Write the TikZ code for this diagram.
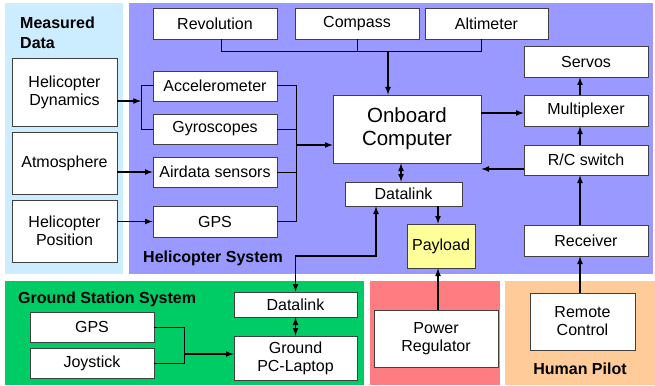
\documentclass[tikz,border=0pt]{standalone}
\usepackage{fontspec}
\setmainfont{Liberation Sans}
\usetikzlibrary{arrows}

\definecolor{measblue}{RGB}{204,236,255}
\definecolor{heliblue}{RGB}{153,153,255}
\definecolor{groundgreen}{RGB}{0,204,102}
\definecolor{powerred}{RGB}{255,124,128}
\definecolor{pilotpeach}{RGB}{255,204,153}
\definecolor{payloadyellow}{RGB}{255,255,153}

\tikzstyle{block} = [rectangle, draw=black!75, line width=0.8pt, fill=white, text centered, align=center, inner sep=0pt, font=\fontsize{16}{18}\selectfont]
\tikzstyle{sensor} = [block, minimum width=124pt, minimum height=30pt]
\tikzstyle{source} = [block, minimum width=105pt]
\tikzstyle{label} = [font=\fontsize{16}{19.5}\selectfont\bfseries, inner sep=0pt]
\tikzstyle{line} = [line width=1pt]
\tikzstyle{arrow} = [line width=1.6pt,->,>=latex]
\tikzstyle{dblarrow} = [line width=1.6pt,<->,>=latex]

\begin{document}
\begin{tikzpicture}[x=1pt,y=-1pt]
	\useasboundingbox (0,0) rectangle (655,385);
	% panels
	\fill[measblue] (5,3) rectangle (123,274);
	\fill[heliblue] (129,3) rectangle (653,274);
	\fill[groundgreen] (5,281) rectangle (364,385);
	\fill[powerred] (370,281) rectangle (500,385);
	\fill[pilotpeach] (505,281) rectangle (655,385);
	
	\node (measlbl) [label, anchor=north west, align=left] at (20,17) {Measured\\Data};
	\node (helilbl) [label, anchor=west] at (143,258.5) {Helicopter System};
	\node (gndlbl) [label, anchor=west] at (18,299) {Ground Station System};
	\node (pilotlbl) [label] at (580,369) {Human Pilot};
	
	% measured data
	\node (dyn) [source, minimum height=68pt] at (64.5,92) {Helicopter\\Dynamics};
	\node (atmo) [source, minimum height=62pt] at (64.5,163) {Atmosphere};
	\node (pos) [source, minimum height=62pt] at (64.5,231) {Helicopter\\Position};
	
	% helicopter system
	\node (rev) [sensor, minimum height=31pt] at (215,23.5) {Revolution};
	\node (compass) [sensor, minimum height=31pt] at (357,23.5) {Compass};
	\node (alti) [sensor, minimum width=123pt, minimum height=31pt] at (486.5,23.5) {Altimeter};
	\node (accel) [sensor] at (215,86) {Accelerometer};
	\node (gyro) [sensor] at (215,129) {Gyroscopes};
	\node (air) [sensor] at (215,172) {Airdata sensors};
	\node (gpsh) [sensor, minimum height=31pt] at (215,221.5) {GPS};
	\node (onboard) [block, minimum width=148pt, minimum height=68pt, font=\fontsize{20.5}{23}\selectfont] at (407,129) {Onboard\\Computer};
	\node (dlheli) [block, minimum width=117pt, minimum height=24pt] at (403.5,194) {Datalink};
	\node (payload) [block, fill=payloadyellow, minimum width=68pt, minimum height=44pt] at (441,246) {Payload};
	\node (servos) [sensor, minimum height=31pt] at (586,61.5) {Servos};
	\node (mux) [sensor, minimum height=31pt] at (586,110.5) {Multiplexer};
	\node (rcsw) [sensor] at (586,160) {R/C switch};
	\node (recv) [sensor, minimum height=31pt] at (586,240.5) {Receiver};
	
	% ground, power, pilot
	\node (dlgnd) [block, minimum width=123pt, minimum height=25pt] at (295.5,304.5) {Datalink};
	\node (pc) [block, minimum width=123pt, minimum height=44pt] at (295.5,358) {Ground\\PC-Laptop};
	\node (gpsg) [sensor] at (92,327) {GPS};
	\node (joy) [sensor] at (92,363) {Joystick};
	\node (power) [block, minimum width=124pt, minimum height=57pt] at (436,338.5) {Power\\Regulator};
	\node (remote) [block, minimum width=105pt, minimum height=57pt] at (582.5,321.5) {Remote\\Control};
	
	\coordinate (mergeL) at (141,101);
	\coordinate (busR) at (296,145);
	\coordinate (busT) at (388,52);
	\coordinate (uplink) at (376,256);
	\coordinate (mergeG) at (184,354);
	
	% inputs to the sensors
	\draw [line] (accel.west) -- (accel.west -| mergeL) -- (gyro.west -| mergeL) -- (gyro.west);
	\draw [arrow] (dyn.east |- mergeL) -- (mergeL);
	\draw [arrow] (atmo.east |- air.west) -- (air.west);
	\draw [arrow] (pos.east |- gpsh.west) -- (gpsh.west);
	
	% sensors to onboard computer
	\draw [line] (accel.east) -- (accel.east -| busR) -- (gpsh.east -| busR) -- (gpsh.east);
	\draw [line] (gyro.east) -- (gyro.east -| busR);
	\draw [line] (air.east) -- (air.east -| busR);
	\draw [arrow] (busR) -- (busR -| onboard.west);
	\draw [line] ([xshift=6pt]rev.south) |- ([xshift=-5pt]alti.south |- busT) -- ([xshift=-5pt]alti.south);
	\draw [line] (compass.south) -- (compass.south |- busT);
	\draw [arrow] (busT) -- (busT |- onboard.north);
	
	% onboard computer and the rest
	\draw [arrow] ([yshift=-2.5pt]mux.west -| onboard.east) -- ([yshift=-2.5pt]mux.west);
	\draw [arrow] ([yshift=-9pt]rcsw.west) -- ([yshift=-9pt]rcsw.west -| onboard.east);
	\draw [arrow] ([xshift=-6pt]mux.north) -- ([xshift=-6pt]servos.south);
	\draw [arrow] ([xshift=-6pt]rcsw.north) -- ([xshift=-6pt]mux.south);
	\draw [arrow] ([xshift=-6pt]recv.north) -- ([xshift=-6pt]rcsw.south);
	\draw [arrow] ([xshift=-6pt]recv.south |- remote.north) -- ([xshift=-6pt]recv.south);
	\draw [dblarrow] ([xshift=-6pt]onboard.south) -- ([xshift=-6pt]onboard.south |- dlheli.north);
	\draw [arrow] ([xshift=-3pt]payload.north |- dlheli.south) -- ([xshift=-3pt]payload.north);
	\draw [arrow] ([xshift=-3pt]payload.south |- power.north) -- ([xshift=-3pt]payload.south);
	
	% ground station
	\draw [dblarrow] (dlgnd.north) |- (uplink) -- (uplink |- dlheli.south);
	\draw [dblarrow] (dlgnd.south) -- (pc.north);
	\draw [line] (gpsg.east) -| (mergeG);
	\draw [line] (joy.east) -| (mergeG);
	\draw [arrow] (mergeG) -- (mergeG -| pc.west);
	
\end{tikzpicture}
\end{document}
